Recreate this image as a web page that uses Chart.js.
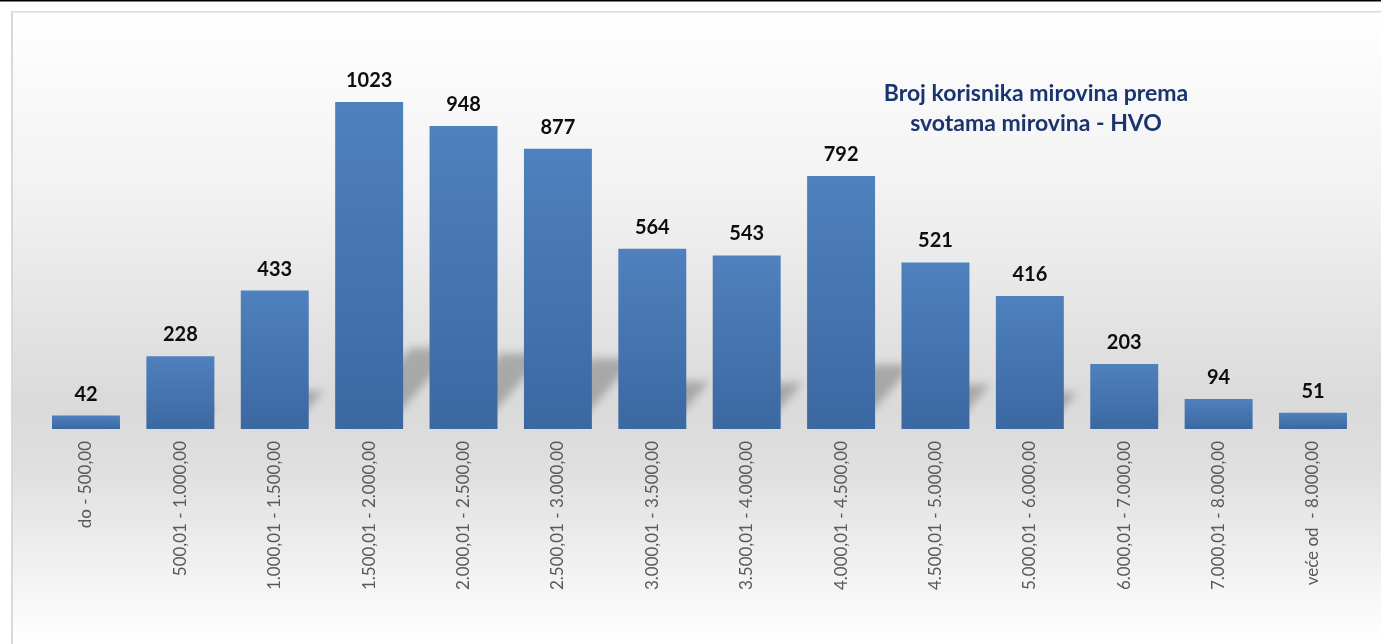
<!DOCTYPE html>
<html>
<head>
<meta charset="utf-8">
<script src="https://cdn.jsdelivr.net/npm/chart.js@4.4.1/dist/chart.umd.min.js"></script>
<style>
  html, body { margin: 0; padding: 0; background: #fff; }
  canvas { display: block; }
</style>
</head>
<body>
<canvas id="chart" width="1381" height="644"></canvas>
<script>
const categories = [
  "do - 500,00",
  "500,01 - 1.000,00",
  "1.000,01 - 1.500,00",
  "1.500,01 - 2.000,00",
  "2.000,01 - 2.500,00",
  "2.500,01 - 3.000,00",
  "3.000,01 - 3.500,00",
  "3.500,01 - 4.000,00",
  "4.000,01 - 4.500,00",
  "4.500,01 - 5.000,00",
  "5.000,01 - 6.000,00",
  "6.000,01 - 7.000,00",
  "7.000,01 - 8.000,00",
  "veće od  - 8.000,00",
];
const counts = [42, 228, 433, 1023, 948, 877, 564, 543, 792, 521, 416, 203, 94, 51];
const titleLines = ["Broj korisnika mirovina prema", "svotama mirovina - HVO"];

// background, frame and top rule
const backdrop = {
  id: "backdrop",
  beforeDraw(chart) {
    const { ctx, width, height } = chart;
    ctx.save();
    ctx.fillStyle = "#fff";
    ctx.fillRect(0, 0, width, height);
    const g = ctx.createLinearGradient(0, 11, 0, height);
    g.addColorStop(0, "#ffffff");
    g.addColorStop(0.3, "#f1f1f1");
    g.addColorStop(0.62, "#dadada");
    g.addColorStop(0.72, "#dfdfdf");
    g.addColorStop(1, "#ffffff");
    ctx.fillStyle = g;
    ctx.fillRect(12, 12, width - 12, height - 12);
    ctx.fillStyle = "#d9d9d9";
    ctx.fillRect(11, 11, 2, height - 11);
    ctx.fillRect(11, 11, width - 11, 1.5);
    ctx.fillStyle = "#000";
    ctx.fillRect(0, 0, width, 1.5);
    ctx.restore();
  },
};

// slanted soft shadows behind the bars
const barShadows = {
  id: "barShadows",
  beforeDatasetsDraw(chart) {
    const { ctx } = chart;
    const meta = chart.getDatasetMeta(0);
    ctx.save();
    ctx.filter = "blur(4px)";
    ctx.fillStyle = "rgba(0,0,0,0.24)";
    meta.data.forEach((bar) => {
      const h = bar.base - bar.y;
      const dy = h * 0.23;
      const dx = dy * 0.9;
      const l = bar.x - bar.width / 2 + 8;
      const r = bar.x + bar.width / 2 - 14;
      const b = bar.base - 6;
      ctx.beginPath();
      ctx.moveTo(l, b);
      ctx.lineTo(r, b);
      ctx.lineTo(r + dx, b - dy);
      ctx.lineTo(l + dx, b - dy);
      ctx.closePath();
      ctx.fill();
    });
    ctx.restore();
  },
};

const valueLabels = {
  id: "valueLabels",
  afterDatasetsDraw(chart) {
    const { ctx } = chart;
    const meta = chart.getDatasetMeta(0);
    ctx.save();
    ctx.font = "bold 20px Lato";
    ctx.fillStyle = "#0d0d0d";
    ctx.textAlign = "center";
    ctx.textBaseline = "alphabetic";
    meta.data.forEach((bar, i) => {
      ctx.fillText(String(counts[i]), bar.x, bar.y - 15);
    });
    ctx.restore();
  },
};

const titleBox = {
  id: "titleBox",
  afterDraw(chart) {
    const { ctx } = chart;
    ctx.save();
    ctx.font = "bold 23px Lato";
    ctx.fillStyle = "#1a3470";
    ctx.textAlign = "center";
    ctx.fillText(titleLines[0], 1036, 101);
    ctx.fillText(titleLines[1], 1036, 131);
    ctx.restore();
  },
};

function barGradient(context) {
  const chart = context.chart;
  if (context.type !== "data" || !chart.chartArea) return "#4a7ab5";
  const y = chart.scales.y;
  const top = y.getPixelForValue(context.raw);
  const base = y.getPixelForValue(0);
  const g = chart.ctx.createLinearGradient(0, top, 0, base);
  g.addColorStop(0, "#4f81be");
  g.addColorStop(1, "#3b68a1");
  return g;
}

new Chart(document.getElementById("chart"), {
  type: "bar",
  data: {
    labels: categories,
    datasets: [
      {
        data: counts,
        backgroundColor: barGradient,
        borderWidth: 0,
        barPercentage: 0.72,
        categoryPercentage: 1,
      },
    ],
  },
  options: {
    responsive: false,
    animation: false,
    layout: { padding: { left: 38.8, right: 20.8, top: 45.5, bottom: 0 } },
    plugins: {
      legend: { display: false },
      tooltip: { enabled: false },
    },
    scales: {
      x: {
        grid: { display: false, drawTicks: false },
        border: { display: false },
        ticks: {
          maxRotation: 90,
          minRotation: 90,
          padding: 12,
          color: "#595959",
          font: { family: "Lato", size: 17 },
          autoSkip: false,
        },
        afterFit(scale) {
          scale.height = 215;
        },
      },
      y: {
        display: false,
        min: 0,
        max: 1200,
      },
    },
  },
  plugins: [backdrop, barShadows, valueLabels, titleBox],
});
</script>
</body>
</html>
